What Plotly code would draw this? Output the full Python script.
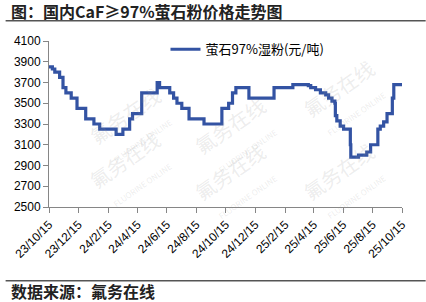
import plotly.graph_objects as go

dates = ["2023-10-15", "2023-10-22", "2023-10-27", "2023-11-06", "2023-11-13", "2023-11-19",
         "2023-11-30", "2023-12-12", "2023-12-30", "2024-01-16", "2024-01-28", "2024-03-02",
         "2024-03-16", "2024-03-30", "2024-04-05", "2024-04-24", "2024-05-26", "2024-05-31",
         "2024-06-21", "2024-06-29", "2024-07-06", "2024-07-16", "2024-07-31", "2024-08-31",
         "2024-10-07", "2024-10-21", "2024-10-29", "2024-11-05", "2024-12-02", "2025-01-23",
         "2025-03-03", "2025-04-04", "2025-04-09", "2025-04-19", "2025-04-29", "2025-05-10",
         "2025-05-16", "2025-05-23", "2025-05-29", "2025-05-30", "2025-06-02", "2025-06-09",
         "2025-06-16", "2025-06-30", "2025-07-01", "2025-07-17", "2025-08-03", "2025-08-11",
         "2025-08-26", "2025-08-31", "2025-09-07", "2025-09-14", "2025-09-25", "2025-09-28",
         "2025-10-15"]
prices = [3850, 3830, 3800, 3750, 3650, 3600,
          3550, 3450, 3350, 3300, 3250, 3200,
          3250, 3350, 3400, 3600, 3700, 3650,
          3600, 3550, 3500, 3450, 3350, 3300,
          3450, 3500, 3600, 3650, 3550, 3650,
          3680, 3670, 3650, 3630, 3600, 3580,
          3550, 3520, 3500, 3380, 3330, 3280,
          3250, 3100, 2980, 3000, 3030, 3100,
          3250, 3280, 3320, 3400, 3550, 3680,
          3680]

tick_dates = ["2023-10-15", "2023-12-15", "2024-02-15", "2024-04-15", "2024-06-15", "2024-08-15",
              "2024-10-15", "2024-12-15", "2025-02-15", "2025-04-15", "2025-06-15", "2025-08-15",
              "2025-10-15"]
tick_labels = ["23/10/15", "23/12/15", "24/2/15", "24/4/15", "24/6/15", "24/8/15",
               "24/10/15", "24/12/15", "25/2/15", "25/4/15", "25/6/15", "25/8/15",
               "25/10/15"]
y_ticks = [2500, 2700, 2900, 3100, 3300, 3500, 3700, 3900, 4100]

series_name = "萤石97%湿粉(元/吨)"
title_text = "图：国内CaF≥97%萤石粉价格走势图"
source_text = "数据来源：氟务在线"

fig = go.Figure()
fig.add_trace(go.Scatter(
    x=dates, y=prices, mode="lines", name=series_name,
    line=dict(color="#3353A3", width=3.2, shape="hv"),
))

axis_font = dict(family="Liberation Sans, Arial, sans-serif", size=12, color="#000000")

fig.update_layout(
    width=426, height=302,
    margin=dict(l=44, r=24, t=41, b=95),
    paper_bgcolor="white", plot_bgcolor="white",
    showlegend=True,
    legend=dict(x=0.33, y=0.95, xanchor="left", yanchor="middle",
                bgcolor="rgba(0,0,0,0)",
                font=dict(family="Noto Sans CJK SC, Liberation Sans, sans-serif", size=13, color="#000000"),
                itemwidth=30),
    xaxis=dict(
        type="date",
        range=["2023-10-15", "2025-10-15"],
        tickvals=tick_dates, ticktext=tick_labels,
        tickangle=-45, tickfont=axis_font,
        showgrid=False, zeroline=False,
        showline=True, linecolor="#868686", linewidth=1,
        ticks="outside", ticklen=5, tickcolor="#868686",
    ),
    yaxis=dict(
        range=[2500, 4100],
        tickvals=y_ticks,
        tickfont=axis_font,
        showgrid=False, zeroline=False,
        showline=True, linecolor="#868686", linewidth=1,
        ticks="outside", ticklen=5, tickcolor="#868686",
    ),
)

# watermarks
wm_positions = [(0.09, 0.78), (0.53, 0.72), (0.98, 0.66), (0.09, -0.05), (0.53, -0.12), (0.98, -0.12)]
for (wx, wy) in wm_positions:
    fig.add_annotation(
        xref="paper", yref="paper", x=wx, y=wy, showarrow=False,
        text="氟务在线<br><span style='font-size:8px'>FLUORINE ONLINE</span>",
        textangle=-35,
        font=dict(family="Noto Sans CJK SC, sans-serif", size=20, color="rgba(150,150,150,0.18)"),
    )

# title and source
fig.add_annotation(
    xref="paper", yref="paper", x=-41/358, y=(206.7 - 10.5) / 166, xanchor="left", yanchor="middle",
    showarrow=False, text="<b>" + title_text + "</b>",
    font=dict(family="Noto Sans CJK SC, sans-serif", size=16, color="#222222"),
)
fig.add_annotation(
    xref="paper", yref="paper", x=-41/358, y=(206.7 - 291) / 166, xanchor="left", yanchor="middle",
    showarrow=False, text="<b>" + source_text + "</b>",
    font=dict(family="Noto Sans CJK SC, sans-serif", size=16, color="#222222"),
)
fig.add_shape(type="line", xref="paper", yref="paper",
              x0=-44/358, x1=(426 - 44) / 358, y0=(206.7 - 20.5) / 166, y1=(206.7 - 20.5) / 166,
              line=dict(color="#555555", width=1.5))
fig.add_shape(type="line", xref="paper", yref="paper",
              x0=-44/358, x1=(426 - 44) / 358, y0=(206.7 - 280.5) / 166, y1=(206.7 - 280.5) / 166,
              line=dict(color="#555555", width=1.5))

fig.write_html("out.html")
